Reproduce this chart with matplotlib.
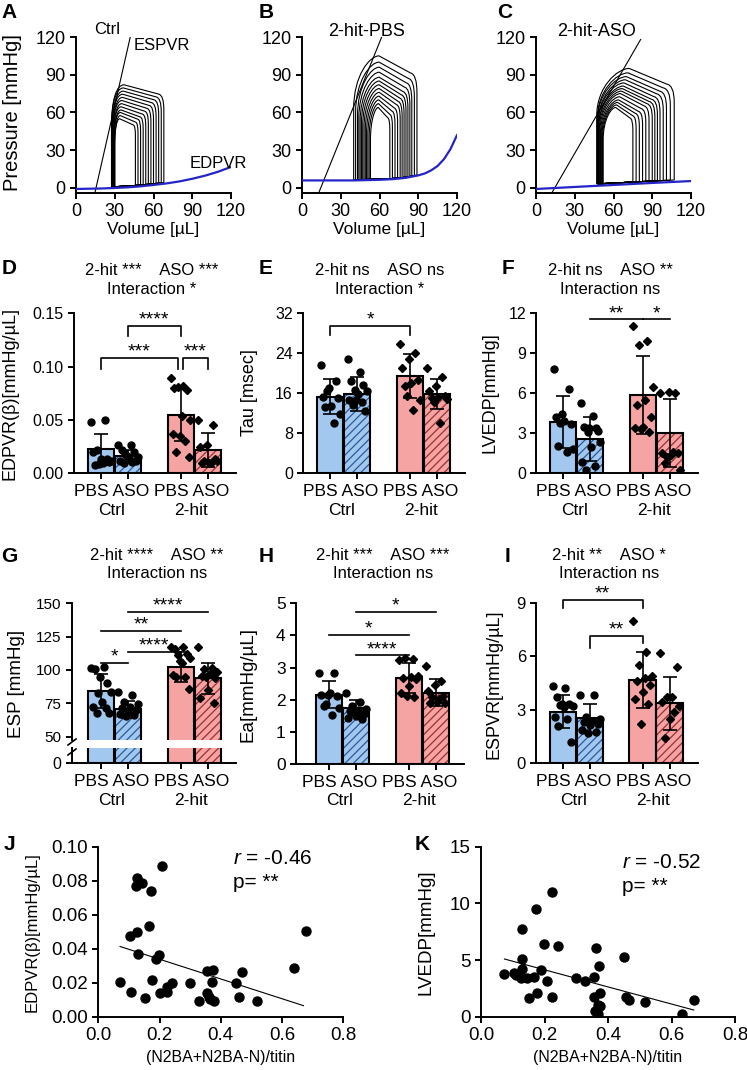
import numpy as np
import matplotlib
matplotlib.use("Agg")
import matplotlib.pyplot as plt
from matplotlib.path import Path
from matplotlib.patches import PathPatch
from matplotlib.lines import Line2D

plt.rcParams['font.family'] = ['Liberation Sans', 'DejaVu Sans']
plt.rcParams['mathtext.fontset'] = 'custom'
plt.rcParams['mathtext.rm'] = 'Liberation Sans'
plt.rcParams['mathtext.it'] = 'Liberation Sans:italic'
plt.rcParams['hatch.linewidth'] = 0.9
plt.rcParams['axes.linewidth'] = 1.4
plt.rcParams['xtick.major.width'] = 1.4
plt.rcParams['ytick.major.width'] = 1.4
plt.rcParams['xtick.major.size'] = 4
plt.rcParams['ytick.major.size'] = 4

W, H = 747, 1070

# ---------------- datos: lazos presion-volumen (A, B, C) ----------------
edpvr_A_v = [0, 10, 20, 30, 40, 50, 60, 70, 80, 90, 100, 110, 120]
edpvr_A_p = [-0.8, -0.6, -0.4, 0, 0.5, 1.3, 2.4, 3.6, 5.2, 7.3, 9.8, 12.9, 16.7]
edpvr_B_v = [0, 20, 40, 60, 70, 80, 90, 95, 100, 105, 110, 115, 120]
edpvr_B_p = [6, 6, 6, 6.5, 7, 8, 10, 11.5, 14, 17.5, 23, 31, 42]
edpvr_C_v = [0, 30, 60, 90, 120]
edpvr_C_p = [-0.8, 0.8, 2.4, 4.0, 5.5]

espvr_A_v = [14.6, 42]
espvr_A_p = [-4, 120]
espvr_B_v = [12.9, 61.7]
espvr_B_p = [-4, 120]
espvr_C_v = [12.2, 81]
espvr_C_p = [-4, 118]

loops_A_esv = [30, 30, 29.5, 29.5, 29, 29, 28.5, 28.5, 28, 28, 27.5, 27.5]
loops_A_edv = [46, 48, 50, 52, 54, 56, 58, 60, 62, 64, 66, 68]
loops_A_pmax = [55, 57.5, 60, 62, 64.5, 67, 69.5, 72, 74.5, 77, 79.5, 82]

loops_B_esv = [53, 52, 51, 50, 49, 48, 47, 46, 45, 44, 43, 41.5, 40]
loops_B_edv = [68, 70, 72, 74, 76, 77.5, 79, 80.5, 82, 83.5, 85, 87, 89]
loops_B_pmax = [64, 67, 70, 73, 76, 79, 82, 85, 88, 92, 96, 100, 105]

loops_C_esv = [52, 51.5, 51, 50.5, 50, 49.5, 49, 48.5, 48.5, 48, 48, 47.5, 47.5, 47]
loops_C_edv = [75, 77.5, 80, 82.5, 85, 87.5, 90, 92, 94, 96, 98.5, 101, 104, 107]
loops_C_pmax = [64, 66, 68, 70, 72.5, 75, 77, 79, 81, 83.5, 86, 88.5, 91.5, 95]

# ---------------- datos: barras (D - I) ----------------
D_mean = [0.023, 0.016, 0.055, 0.022]
D_sd = [0.014, 0.006, 0.025, 0.016]
D_pts = [[0.048, 0.050, 0.022, 0.012, 0.010, 0.008, 0.011, 0.013, 0.020, 0.013, 0.009],
         [0.027, 0.027, 0.022, 0.020, 0.018, 0.015, 0.013, 0.012, 0.011, 0.010, 0.012, 0.016],
         [0.089, 0.082, 0.080, 0.078, 0.081, 0.050, 0.054, 0.037, 0.030, 0.020, 0.015, 0.035],
         [0.050, 0.045, 0.027, 0.025, 0.013, 0.010, 0.010, 0.012, 0.010, 0.012]]

E_mean = [15.3, 15.8, 19.4, 15.8]
E_sd = [3.4, 3.3, 4.4, 3.0]
E_pts = [[21.6, 18.3, 16.9, 15.3, 15.1, 13.4, 13.3, 11.8, 10.1, 16.3],
         [22.8, 20.2, 18.4, 17.6, 16.6, 16.3, 15.8, 14.7, 14.3, 13.6, 12.5, 14.6],
         [25.8, 23.9, 22.7, 21.0, 18.6, 17.9, 17.4, 14.6, 12.7, 15.4],
         [20.9, 19.1, 17.4, 16.3, 15.4, 15.3, 15.1, 14.9, 10.0, 14.3]]

F_mean = [3.86, 2.54, 5.85, 2.99]
F_sd = [1.95, 1.65, 2.95, 2.55]
F_pts = [[7.77, 6.27, 4.43, 4.23, 3.68, 3.9, 2.04, 1.79, 1.62, 3.78],
         [5.28, 4.28, 3.49, 3.41, 3.11, 2.37, 1.99, 0.87, 0.55, 0.25, 3.19, 3.36],
         [11.0, 9.9, 9.58, 6.47, 5.48, 5.1, 4.23, 3.49, 3.36, 3.11, 3.29],
         [6.02, 6.02, 6.1, 1.49, 1.54, 1.37, 0.75, 0.25, 1.62, 1.24]]

G_mean = [84, 70.5, 102.5, 93.7]
G_sd = [12.8, 6.3, 11.2, 11.6]
G_pts = [[101.2, 102, 100.5, 90, 83, 83.7, 76.2, 72.5, 71.2, 68, 68, 95],
         [83.7, 81.2, 76.2, 74.5, 72.5, 71.2, 70, 68.7, 67, 66.2, 65.5],
         [117, 117, 115.5, 111.7, 111.2, 108.7, 105.5, 96.2, 94.5, 94.5, 85.5, 107],
         [117, 101.2, 100.5, 98.7, 97, 95.5, 93.7, 85, 79.2, 75.5, 95]]

H_mean = [2.16, 1.75, 2.68, 2.22]
H_sd = [0.41, 0.24, 0.46, 0.43]
H_pts = [[2.83, 2.83, 2.16, 2.16, 2.13, 2.2, 1.8, 1.75, 1.52, 1.86],
         [2.22, 1.93, 1.8, 1.72, 1.68, 1.65, 1.55, 1.49, 1.44, 1.39, 1.6],
         [3.25, 3.28, 3.3, 2.73, 2.71, 2.68, 2.63, 2.44, 2.22, 2.09, 2.11],
         [3.04, 2.58, 2.47, 2.27, 2.13, 1.93, 1.89, 1.89, 2.01, 2.09]]

I_mean = [2.9, 2.52, 4.67, 3.36]
I_sd = [0.92, 0.8, 1.58, 1.5]
I_pts = [[4.34, 4.2, 3.74, 3.32, 3.27, 3.21, 3.18, 2.62, 2.47, 2.09, 1.21, 3.3],
         [3.83, 3.83, 2.62, 2.47, 2.39, 2.34, 2.21, 2.15, 1.87, 1.78, 1.72],
         [7.98, 6.26, 5.51, 4.9, 4.77, 4.64, 4.39, 4.02, 3.59, 3.33, 2.19],
         [6.17, 5.38, 3.7, 3.7, 3.46, 3.21, 2.9, 2.47, 1.4]]

# ---------------- datos: correlaciones (J, K) ----------------
J_x = [0.071, 0.103, 0.107, 0.125, 0.123, 0.127, 0.130, 0.144, 0.151, 0.165, 0.173, 0.175,
       0.189, 0.199, 0.202, 0.208, 0.223, 0.224, 0.240, 0.299, 0.330, 0.356, 0.356, 0.362,
       0.370, 0.365, 0.375, 0.379, 0.450, 0.461, 0.469, 0.517, 0.640, 0.677]
J_y = [0.0206, 0.0475, 0.0147, 0.0496, 0.0769, 0.0814, 0.0367, 0.0788, 0.0108, 0.0535, 0.0739, 0.0216,
       0.0337, 0.0363, 0.0137, 0.0886, 0.0147, 0.0176, 0.0196, 0.0196, 0.0094, 0.0269, 0.0137, 0.0118,
       0.0206, 0.0102, 0.0275, 0.0094, 0.0196, 0.0118, 0.0265, 0.0094, 0.0284, 0.0506]
J_fit_x = [0.071, 0.67]
J_fit_y = [0.0413, 0.0065]
K_x = [0.074, 0.104, 0.109, 0.128, 0.128, 0.128, 0.125, 0.146, 0.152, 0.167, 0.173, 0.175,
       0.189, 0.199, 0.209, 0.223, 0.223, 0.241, 0.299, 0.328, 0.356, 0.356, 0.359, 0.362,
       0.367, 0.370, 0.373, 0.375, 0.375, 0.449, 0.456, 0.467, 0.515, 0.634, 0.671]
K_y = [3.76, 3.82, 3.68, 7.7, 5.06, 4.18, 3.38, 3.38, 1.62, 3.47, 9.5, 2.06,
       4.12, 6.41, 3.12, 10.97, 1.76, 6.24, 3.38, 3.12, 3.47, 1.76, 0.53, 6.09,
       1.03, 0.24, 4.5, 2.06, 0.94, 5.24, 1.71, 1.47, 1.26, 0.24, 1.47]
K_fit_x = [0.074, 0.67]
K_fit_y = [5.09, 0.59]

grupos = ['PBS ASO', 'PBS ASO']
grupos2 = ['Ctrl', '2-hit']
pos = [0, 1, 2.95, 3.95]
azul, rosa = '#a3c8f0', '#f6a3a3'
colores = [azul, azul, rosa, rosa]
rayado = [None, '#2a5a9c', None, '#9a3030']
marcas = ['o', 'o', 'D', 'D']

fig = plt.figure(figsize=(W / 100, H / 100), dpi=100)


def add_ax(l, t, r, b):
    a = fig.add_axes([l / W, 1 - b / H, (r - l) / W, (b - t) / H])
    a.spines['top'].set_visible(False)
    a.spines['right'].set_visible(False)
    return a


def ftext(x, y, s, **kw):
    fig.text(x / W, 1 - y / H, s, **kw)


def ylab(ax, s, px, py, size):
    ax.set_ylabel(s, fontsize=size)
    ax.yaxis.set_label_coords(px / W, 1 - py / H, transform=fig.transFigure)


# ---------------- fila superior ----------------
def pv_loop(ax, esv, edv, pmax, ev, ep, peak, corner, base):
    w = edv - esv
    vb = np.linspace(esv, edv, 15)
    pb = np.interp(vb, ev, ep) + base
    verts = [(v, p) for v, p in zip(vb, pb)]
    codes = [Path.MOVETO] + [Path.LINETO] * (len(vb) - 1)
    pc = corner * pmax
    verts += [(edv, pc - 0.12 * pmax),
              (edv, pc + 0.02 * pmax), (edv - 0.1 * w, pc + 0.03 * pmax),
              (esv + peak * w, pmax),
              (esv + max(peak - 0.15, 0.02) * w, pmax), (esv, 0.85 * pmax), (esv, 0.6 * pmax),
              (esv, pb[0])]
    codes += [Path.LINETO, Path.CURVE3, Path.CURVE3, Path.LINETO,
              Path.CURVE4, Path.CURVE4, Path.CURVE4, Path.LINETO]
    ax.add_patch(PathPatch(Path(verts, codes), fill=False, lw=0.8, edgecolor='black'))


pv_sets = [
    (76, loops_A_esv, loops_A_edv, loops_A_pmax, edpvr_A_v, edpvr_A_p, espvr_A_v, espvr_A_p, 0.24, 0.88, 1.0),
    (302, loops_B_esv, loops_B_edv, loops_B_pmax, edpvr_B_v, edpvr_B_p, espvr_B_v, espvr_B_p, 0.40, 0.84, 0.5),
    (536, loops_C_esv, loops_C_edv, loops_C_pmax, edpvr_C_v, edpvr_C_p, espvr_C_v, espvr_C_p, 0.42, 0.84, 1.5),
]
for k, (lx, esv, edv, pm, ev, ep, sv, sp, peak, corner, base) in enumerate(pv_sets):
    ax = add_ax(lx, 37, lx + 155, 193)
    for a, b, c in zip(esv, edv, pm):
        pv_loop(ax, a, b, c, ev, ep, peak, corner, base)
    ax.plot(ev, ep, color='#2424c8', lw=1.6, zorder=3)
    ax.plot(sv, sp, color='black', lw=0.8)
    ax.set_xlim(0, 120)
    ax.set_ylim(-4, 120)
    ax.set_xticks([0, 30, 60, 90, 120])
    ax.set_yticks([0, 30, 60, 90, 120])
    ax.tick_params(labelsize=13)
    ax.set_xlabel('Volume [µL]', fontsize=12.5, labelpad=1)
    if k == 0:
        ylab(ax, 'Pressure [mmHg]', 22, 113, 14.5)

ftext(107, 30, 'Ctrl', fontsize=12, ha='center', va='center')
ftext(162, 45, 'ESPVR', fontsize=12, ha='center', va='center')
ftext(218, 163, 'EDPVR', fontsize=12, ha='center', va='center')
ftext(367, 32, '2-hit-PBS', fontsize=13, ha='center', va='center')
ftext(597, 32, '2-hit-ASO', fontsize=13, ha='center', va='center')

for s, x, y in [('A', 9, 13), ('B', 266, 13), ('C', 505, 13), ('D', 9, 268), ('E', 266, 268),
                ('F', 508, 268), ('G', 9, 556), ('H', 266, 556), ('I', 508, 556),
                ('J', 9, 845), ('K', 422, 845)]:
    ftext(x, y, s, fontsize=15, fontweight='bold', ha='center', va='center')


# ---------------- barras ----------------
def spread(n):
    base = np.linspace(-0.36, 0.36, n)
    return base[(np.arange(n) * 7) % n]


def barras(ax, means, sds=None, pts=None):
    for i in range(4):
        if rayado[i]:
            ax.bar(pos[i], means[i], 0.97, color=colores[i], edgecolor=rayado[i],
                   hatch='////', linewidth=0, zorder=1)
            ax.bar(pos[i], means[i], 0.97, facecolor='none', edgecolor='black', linewidth=1.5, zorder=2)
        else:
            ax.bar(pos[i], means[i], 0.97, color=colores[i], edgecolor='black', linewidth=1.5, zorder=2)
        if sds is not None:
            ax.errorbar(pos[i], means[i], yerr=sds[i], color='black', capsize=5,
                        elinewidth=1.2, capthick=1.2, zorder=3)
        if pts is not None:
            ax.plot(pos[i] + spread(len(pts[i])), pts[i], marcas[i], color='black',
                    ms=5 if marcas[i] == 'o' else 4, linestyle='none', zorder=4)


def eje_x(ax, lim0):
    ax.set_xlim(lim0, 5.0)
    ax.set_xticks(pos)
    ax.set_xticklabels([])
    for g, (i, j) in enumerate([(0, 1), (2, 3)]):
        xc = (pos[i] + pos[j]) / 2 - 0.1
        ax.annotate(grupos[g], (xc, 0), xycoords=('data', 'axes fraction'), xytext=(0, -13),
                    textcoords='offset points', ha='center', va='center', fontsize=12.5)
        ax.annotate(grupos2[g], (xc, 0), xycoords=('data', 'axes fraction'), xytext=(0, -26.5),
                    textcoords='offset points', ha='center', va='center', fontsize=12.5)


def llave(ax, x1, x2, y, leg1, leg2, txt):
    ax.plot([x1, x1, x2, x2], [y - leg1, y, y, y - leg2], color='black', lw=1.2, clip_on=False)
    if txt:
        ax.annotate(txt, ((x1 + x2) / 2, y), xytext=(0, 1), textcoords='offset points',
                    ha='center', va='baseline', fontsize=14, annotation_clip=False)


def titulo(xc, y1, l1, l2):
    ftext(xc, y1, l1, fontsize=12, ha='center', va='center')
    ftext(xc, y1 + 18, l2, fontsize=12, ha='center', va='center')


# D
ax = add_ax(74, 313.3, 236, 473.3)
barras(ax, D_mean, D_sd, D_pts)
ax.set_ylim(0, 0.15)
ax.set_yticks([0, 0.05, 0.10, 0.15])
ax.set_yticklabels(['0.00', '0.05', '0.10', '0.15'])
ax.tick_params(labelsize=11.5)
eje_x(ax, -1.0)
ylab(ax, 'EDPVR(β)[mmHg/µL]', 19, 393, 13)
llave(ax, pos[1], pos[2], 0.138, 0.009, 0.009, '****')
llave(ax, pos[0], pos[2] - 0.1, 0.108, 0.010, 0.010, '***')
llave(ax, pos[2] + 0.1, pos[3], 0.108, 0.010, 0.010, '***')
titulo(152, 271, '2-hit ***    ASO ***', 'Interaction *')

# E
ax = add_ax(303.3, 312.7, 465.3, 473.3)
barras(ax, E_mean, E_sd, E_pts)
ax.set_ylim(0, 32)
ax.set_yticks([0, 8, 16, 24, 32])
ax.tick_params(labelsize=11.5)
eje_x(ax, -1.0)
ylab(ax, 'Tau [msec]', 258, 393, 13)
llave(ax, pos[0], pos[2], 29.3, 1.7, 1.7, '*')
titulo(380, 271, '2-hit ns    ASO ns', 'Interaction *')

# F
ax = add_ax(536.3, 312.7, 698.3, 473.3)
barras(ax, F_mean, F_sd, F_pts)
ax.set_ylim(0, 12)
ax.set_yticks([0, 3, 6, 9, 12])
ax.tick_params(labelsize=11.5)
eje_x(ax, -1.0)
ylab(ax, 'LVEDP[mmHg]', 498, 393, 13)
llave(ax, pos[1], pos[2], 11.5, 0, 0, '**')
llave(ax, pos[2], pos[3], 11.5, 0, 0, '*')
titulo(610, 271, '2-hit ns    ASO **', 'Interaction ns')

# G (eje cortado)
ax = add_ax(72, 603.3, 236, 740)
barras(ax, G_mean, G_sd, G_pts)
ax.set_ylim(47.5, 150)
ax.set_yticks([50, 75, 100, 125, 150])
ax.tick_params(labelsize=11)
ax.spines['bottom'].set_visible(False)
ax.set_xlim(-1.08, 5.0)
ax.set_xticks([])
ylab(ax, 'ESP [mmHg]', 25, 684, 13.5)
llave(ax, pos[1], pos[3], 143.7, 0, 0, '****')
llave(ax, pos[0], pos[2], 129.5, 0, 0, '**')
llave(ax, pos[1], pos[2], 113.7, 0, 0, '****')
llave(ax, pos[0], pos[1], 105, 0, 0, '*')
ax2 = add_ax(72, 748.3, 236, 763.3)
barras(ax2, G_mean)
ax2.set_ylim(0, 11.25)
ax2.set_yticks([0])
ax2.tick_params(labelsize=11.5)
eje_x(ax2, -1.08)
for y0 in [742, 752]:
    fig.add_artist(Line2D([68 / W, 76 / W], [1 - (y0 + 3) / H, 1 - (y0 - 3) / H],
                          color='black', lw=1.2))
titulo(157, 556, '2-hit ****    ASO **', 'Interaction ns')

# H
ax = add_ax(296, 603.3, 464, 764)
barras(ax, H_mean, H_sd, H_pts)
ax.set_ylim(0, 5)
ax.set_yticks([0, 1, 2, 3, 4, 5])
ax.tick_params(labelsize=12.5)
eje_x(ax, -1.22)
ylab(ax, 'Ea[mmHg/µL]', 257, 684, 13.5)
llave(ax, pos[1], pos[3], 4.74, 0, 0, '*')
llave(ax, pos[0], pos[2], 4.02, 0, 0, '*')
llave(ax, pos[1], pos[2], 3.38, 0, 0, '****')
titulo(383, 556, '2-hit ***    ASO ***', 'Interaction ns')

# I
ax = add_ax(536.3, 602.7, 698, 763.3)
barras(ax, I_mean, I_sd, I_pts)
ax.set_ylim(0, 9)
ax.set_yticks([0, 3, 6, 9])
ax.tick_params(labelsize=12)
eje_x(ax, -0.98)
ylab(ax, 'ESPVR[mmHg/µL]', 502, 684, 13)
llave(ax, pos[0], pos[2], 9.16, 0.47, 0.47, '**')
llave(ax, pos[1], pos[2], 7.14, 0.7, 0.4, '**')
titulo(609, 556, '2-hit **    ASO *', 'Interaction ns')


# ---------------- correlaciones ----------------
def correl(ax, x, y, fx, fy, r_txt, tx, ty):
    ax.plot(x, y, 'o', color='black', ms=6.5, linestyle='none')
    ax.plot(fx, fy, color='black', lw=0.8)
    ax.set_xlim(0, 0.8)
    ax.set_xticks([0, 0.2, 0.4, 0.6, 0.8])
    ax.set_xticklabels(['0.0', '0.2', '0.4', '0.6', '0.8'])
    ax.tick_params(labelsize=13.5)
    ax.set_xlabel('(N2BA+N2BA-N)/titin', fontsize=11.5, labelpad=4)
    ftext(tx, ty, r_txt, fontsize=15, ha='left', va='center')
    ftext(tx, ty + 25, 'p= **', fontsize=15, ha='left', va='center')


ax = add_ax(98.3, 846.7, 343.3, 1016.7)
correl(ax, J_x, J_y, J_fit_x, J_fit_y, '$r$ = -0.46', 233, 858)
ax.set_ylim(0, 0.10)
ax.set_yticks([0, 0.02, 0.04, 0.06, 0.08, 0.10])
ax.set_yticklabels(['0.00', '0.02', '0.04', '0.06', '0.08', '0.10'])
ylab(ax, 'EDPVR(β)[mmHg/µL]', 40, 932, 12)

ax = add_ax(481, 846.7, 735, 1016.7)
correl(ax, K_x, K_y, K_fit_x, K_fit_y, '$r$ = -0.52', 622, 862)
ax.set_ylim(0, 15)
ax.set_yticks([0, 5, 10, 15])
ylab(ax, 'LVEDP[mmHg]', 435, 932, 13.5)

fig.savefig('out.png', dpi=100)
